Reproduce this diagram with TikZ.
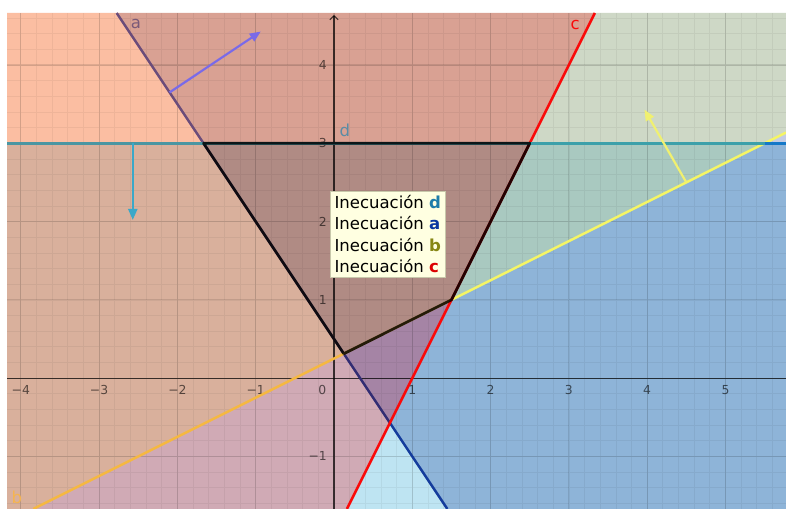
\documentclass[tikz,border=0pt]{standalone}
\usepackage{fontspec}
\setmainfont{DejaVu Sans}
\usetikzlibrary{arrows.meta}
\definecolor{zoneBC}{RGB}{251,190,162}
\definecolor{zoneABC}{RGB}{217,161,147}
\definecolor{zoneAB}{RGB}{206,216,198}
\definecolor{zoneA}{RGB}{196,204,228}
\definecolor{zoneBCD}{RGB}{217,176,156}
\definecolor{zoneAll}{RGB}{176,139,132}
\definecolor{zoneCD}{RGB}{208,170,181}
\definecolor{zoneACD}{RGB}{165,132,165}
\definecolor{zoneD}{RGB}{190,228,242}
\definecolor{zoneABD}{RGB}{169,201,192}
\definecolor{zoneAD}{RGB}{142,180,216}
\definecolor{lineATop}{RGB}{107,76,122}
\definecolor{lineAMid}{RGB}{50,45,115}
\definecolor{lineALow}{RGB}{20,60,156}
\definecolor{lineBLeft}{RGB}{245,184,65}
\definecolor{lineBRight}{RGB}{245,245,100}
\definecolor{lineC}{RGB}{250,10,10}
\definecolor{lineDLeft}{RGB}{74,150,162}
\definecolor{lineDMid}{RGB}{60,160,170}
\definecolor{lineDRight}{RGB}{20,120,200}
\definecolor{vecD}{RGB}{58,168,200}
\definecolor{vecA}{RGB}{122,106,232}
\definecolor{vecB}{RGB}{240,240,112}
\definecolor{labA}{RGB}{122,90,120}
\definecolor{labD}{RGB}{90,140,165}
\definecolor{labB}{RGB}{245,180,80}
\definecolor{legFill}{RGB}{255,255,225}
\definecolor{legBorder}{RGB}{200,200,170}
\definecolor{legD}{RGB}{30,125,170}
\definecolor{legA}{RGB}{10,55,160}
\definecolor{legB}{RGB}{135,135,20}
\definecolor{legC}{RGB}{220,0,0}
\begin{document}
\begin{tikzpicture}[x=2cm,y=2cm,every node/.style={font=\fontsize{12}{15.6}\selectfont}]
      \tikzstyle{ln}=[line width=1.8pt]
      \tikzstyle{vec}=[line width=1.6pt,-{Triangle[length=8pt,width=6.5pt]}]
      \tikzstyle{tick}=[text=black,text opacity=.6,inner sep=1pt,
                        font=\fontsize{9}{10}\selectfont]
      \useasboundingbox (-4.266,-1.670) rectangle (5.773,4.830);
      \fill[white] (-4.266,-1.670) rectangle (5.773,4.830);
      \coordinate (pLB) at (-4.176,-1.670);
      \coordinate (pLT) at (-4.176,4.664);
      \coordinate (pRT) at (5.773,4.664);
      \coordinate (pRB) at (5.773,-1.670);
      \coordinate (dL) at (-4.176,3);
      \coordinate (dR) at (5.773,3);
      \coordinate (ad) at (-5/3,3);
      \coordinate (cd) at (2.5,3);
      \coordinate (bd) at (5.5,3);
      \coordinate (ab) at (0.125,0.3125);
      \coordinate (bc) at (1.5,1);
      \coordinate (ac) at (5/7,-4/7);
      \coordinate (aT) at (-2.776,4.664);
      \coordinate (aB) at (1.447,-1.670);
      \coordinate (cT) at (3.332,4.664);
      \coordinate (cB) at (0.165,-1.670);
      \coordinate (bL) at (-3.840,-1.670);
      \coordinate (bR) at (5.773,3.1365);
      \fill[zoneBC] (dL) -- (pLT) -- (aT) -- (ad) -- cycle;
      \fill[zoneABC] (ad) -- (aT) -- (cT) -- (cd) -- cycle;
      \fill[zoneAB] (cd) -- (cT) -- (pRT) -- (bR) -- (bd) -- cycle;
      \fill[zoneA] (bd) -- (bR) -- (dR) -- cycle;
      \fill[zoneBCD] (dL) -- (ad) -- (ab) -- (bL) -- (pLB) -- cycle;
      \fill[zoneAll] (ad) -- (cd) -- (bc) -- (ab) -- cycle;
      \fill[zoneCD] (bL) -- (ab) -- (ac) -- (cB) -- cycle;
      \fill[zoneACD] (ab) -- (bc) -- (ac) -- cycle;
      \fill[zoneD] (ac) -- (cB) -- (aB) -- cycle;
      \fill[zoneABD] (bc) -- (cd) -- (bd) -- cycle;
      \fill[zoneAD] (bc) -- (bd) -- (dR) -- (pRB) -- (aB) -- (ac) -- cycle;
      \draw[black,opacity=.05,line width=.5pt,step=.2] (pLB) grid (pRT);
      \draw[black,opacity=.11,line width=.8pt,step=1] (pLB) grid (pRT);
      \draw[black,opacity=.7,line width=.8pt] (-4.176,0) -- (5.773,0);
      \draw[black,opacity=.7,line width=.8pt,-{Straight Barb[length=3pt,width=6pt]}]
            (0,-1.670) -- (0,4.64);
      \foreach \x/\t in {-4/−4,-3/−3,-2/−2,-1/−1,1/1,2/2,3/3,4/4,5/5}
        \node[tick] (tx\x) at (\x,-0.15) {\t};
      \node[tick] (t0) at (-0.15,-0.15) {0};
      \foreach \y/\t in {-1/−1,1/1,2/2,3/3,4/4}
        \node[tick,anchor=east] (ty\y) at (-0.07,\y) {\t};
      \draw[ln,lineATop] (aT) -- (ab);
      \draw[ln,lineAMid] (ab) -- (ac);
      \draw[ln,lineALow] (ac) -- (aB);
      \draw[ln,lineBLeft] (bL) -- (bc);
      \draw[ln,lineBRight] (bc) -- (bR);
      \draw[ln,lineC] (cT) -- (cB);
      \draw[ln,lineDLeft] (dL) -- (cd);
      \draw[ln,lineDMid] (cd) -- (bd);
      \draw[ln,lineDRight] (bd) -- (dR);
      \draw[black,opacity=.85,line width=2pt,line join=round]
            (ad) -- (cd) -- (bc) -- (ab) -- cycle;
      \coordinate (vd0) at (-2.57,3);
      \coordinate (vd1) at (-2.57,2.02);
      \coordinate (va0) at (-2.1,3.65);
      \coordinate (va1) at (-0.935,4.427);
      \coordinate (vb0) at (4.5,2.5);
      \coordinate (vb1) at (3.965,3.43);
      \draw[vec,vecD] (vd0) -- (vd1);
      \draw[vec,vecA] (va0) -- (va1);
      \draw[vec,vecB] (vb0) -- (vb1);
      \node[text=labA] (la) at (-2.53,4.52) {a};
      \node[text=labD] (ld) at (0.14,3.16) {d};
      \node[text=lineC] (lc) at (3.08,4.51) {c};
      \node[text=labB] (lb) at (-4.05,-1.52) {b};
      \node[draw=legBorder,fill=legFill,anchor=north west,align=left,inner sep=3pt,
            line width=.5pt] (leg) at (-0.05,2.395)
            {Inecuación \textbf{\color{legD}d}\\Inecuación \textbf{\color{legA}a}\\
             Inecuación \textbf{\color{legB}b}\\Inecuación \textbf{\color{legC}c}};
    \end{tikzpicture}
\end{document}
